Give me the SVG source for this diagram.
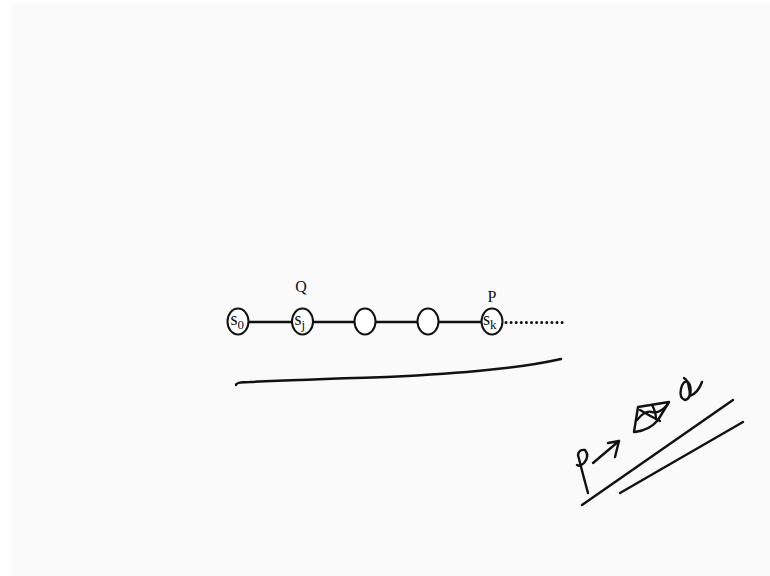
<svg xmlns="http://www.w3.org/2000/svg" width="770" height="576" viewBox="0 0 770 576">
<style>
.node{fill:#fff;stroke:#111;stroke-width:2}
.edge{stroke:#111;stroke-width:2.4;fill:none}
.ink{stroke:#111;stroke-width:2.4;fill:none;stroke-linecap:round;stroke-linejoin:round}
.lbl{font-family:"Liberation Serif","Times New Roman",serif;fill:#111}
.s{font-size:18px}
.sub{font-size:13px}
</style>
<rect width="770" height="576" fill="#fff"/>
<rect x="11" y="4" width="759" height="572" fill="#fafafa"/>
<g id="connectors">
<line class="edge" x1="248" y1="322" x2="292" y2="322"/>
<line class="edge" x1="312" y1="322" x2="355" y2="322"/>
<line class="edge" x1="375" y1="322" x2="418" y2="322"/>
<line class="edge" x1="438" y1="322" x2="482" y2="322"/>
<line x1="506" y1="322.5" x2="563" y2="322.5" stroke="#111" stroke-width="3" stroke-linecap="round" stroke-dasharray="0 5.1"/>
</g>
<g id="s0"><ellipse class="node" cx="238" cy="321.5" rx="10.5" ry="13"/><text class="lbl s" x="230.5" y="325">s<tspan class="sub" dy="4">0</tspan></text></g>
<g id="sj"><ellipse class="node" cx="302.5" cy="321.5" rx="10.5" ry="13"/><text class="lbl s" x="294.5" y="325">s<tspan class="sub" dy="4">j</tspan></text><text class="lbl" x="301" y="292" font-size="16" text-anchor="middle">Q</text></g>
<g id="n3"><ellipse class="node" cx="365" cy="321.5" rx="10.5" ry="13"/></g>
<g id="n4"><ellipse class="node" cx="428" cy="321.5" rx="10.5" ry="13"/></g>
<g id="sk"><ellipse class="node" cx="492" cy="321.5" rx="10.5" ry="13"/><text class="lbl s" x="483" y="325">s<tspan class="sub" dy="4">k</tspan></text><text class="lbl" x="492" y="302" font-size="16" text-anchor="middle">P</text></g>
<g id="underline">
<path class="ink" d="M236,385 Q236,382 250,382 Q290,380 387,377 Q450,374 487,370 Q530,366 561,359"/>
</g>
<g id="scribble">
<path class="ink" d="M582,505 L733,400"/>
<path class="ink" d="M620,493 L743,422"/>
<path class="ink" d="M588,493 Q583,475 578,455 Q579,449 585,450 Q590,456 584,463 Q580,467 577,465"/>
<path class="ink" d="M593,463 L619,441"/>
<path class="ink" d="M608,443 L619,441 L615,457"/>
<path class="ink" d="M634,432 L638,407 L669,402 L658,420 Q650,430 635,432"/>
<path class="ink" d="M640,410 Q650,416 660,421"/>
<path class="ink" d="M637,420 Q645,410 652,412 Q660,414 668,404"/>
<path class="ink" d="M652,405 Q656,412 656,419"/>
<path class="ink" d="M684,378 Q688,380 689,388 Q692,398 685,400 Q679,398 681,389 Q683,380 688,382 Q692,386 690,396 Q698,393 702,382"/>
</g>
</svg>
